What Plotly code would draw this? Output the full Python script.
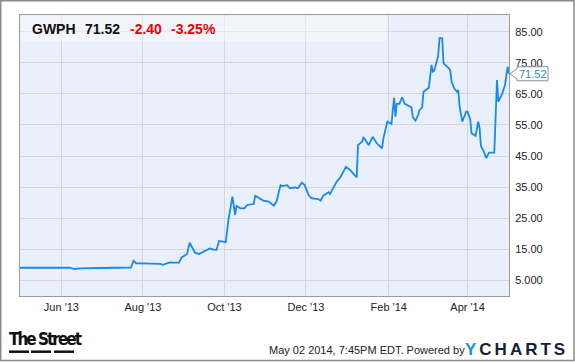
import plotly.graph_objects as go

# ---- data ----
dates = [
    "2013-05-01", "2013-05-20", "2013-06-07", "2013-06-11", "2013-06-15", "2013-06-30", "2013-07-23", "2013-07-25", "2013-07-27", "2013-08-06",
    "2013-08-14", "2013-08-16", "2013-08-21", "2013-08-25", "2013-08-28", "2013-08-30", "2013-09-03", "2013-09-05", "2013-09-09", "2013-09-12",
    "2013-09-15", "2013-09-20", "2013-09-23", "2013-09-25", "2013-09-27", "2013-10-02", "2013-10-04", "2013-10-07", "2013-10-09", "2013-10-10",
    "2013-10-13", "2013-10-16", "2013-10-18", "2013-10-23", "2013-10-24", "2013-10-26", "2013-10-30", "2013-11-03", "2013-11-07", "2013-11-09",
    "2013-11-12", "2013-11-13", "2013-11-17", "2013-11-19", "2013-11-23", "2013-11-25", "2013-11-28", "2013-11-30", "2013-12-03", "2013-12-05",
    "2013-12-10", "2013-12-12", "2013-12-14", "2013-12-18", "2013-12-19", "2013-12-22", "2013-12-24", "2013-12-27", "2013-12-31", "2014-01-03",
    "2014-01-07", "2014-01-08", "2014-01-09", "2014-01-12", "2014-01-13", "2014-01-14", "2014-01-17", "2014-01-20", "2014-01-23", "2014-01-27",
    "2014-01-28", "2014-01-31", "2014-02-03", "2014-02-05", "2014-02-06", "2014-02-07", "2014-02-09", "2014-02-11", "2014-02-13", "2014-02-18",
    "2014-02-19", "2014-02-21", "2014-02-23", "2014-02-24", "2014-02-26", "2014-02-27", "2014-03-03", "2014-03-05", "2014-03-06", "2014-03-07",
    "2014-03-10", "2014-03-11", "2014-03-13", "2014-03-14", "2014-03-18", "2014-03-19", "2014-03-20", "2014-03-22", "2014-03-24", "2014-03-25",
    "2014-03-26", "2014-03-28", "2014-03-31", "2014-04-01", "2014-04-03", "2014-04-04", "2014-04-07", "2014-04-09", "2014-04-10", "2014-04-11",
    "2014-04-13", "2014-04-15", "2014-04-17", "2014-04-21", "2014-04-23", "2014-04-24", "2014-04-27", "2014-04-29", "2014-05-01", "2014-05-02",
]
prices = [
    8.95, 8.87, 8.97, 8.55, 8.77, 8.87, 9.03, 11.2, 10.4, 10.3,
    10.2, 9.9, 10.7, 10.6, 10.6, 12.3, 13.4, 17.0, 13.8, 13.4,
    14.1, 15.2, 14.8, 14.7, 17.6, 17.2, 24.4, 31.9, 26.0, 28.9,
    28.1, 28.1, 29.2, 29.5, 32.2, 31.7, 30.6, 30.3, 29.0, 30.3,
    35.6, 35.3, 35.6, 34.6, 34.9, 34.6, 36.4, 35.6, 32.4, 31.4,
    31.1, 30.6, 32.2, 33.3, 32.7, 35.1, 36.7, 38.3, 41.5, 40.5,
    38.3, 38.1, 48.5, 49.6, 50.9, 50.5, 48.5, 51.2, 49.1, 47.5,
    50.7, 56.1, 55.3, 63.8, 57.7, 61.8, 61.8, 63.9, 61.8, 60.7,
    57.5, 56.4, 58.2, 59.8, 60.7, 65.7, 67.0, 74.4, 72.2, 72.5,
    77.3, 83.0, 83.0, 74.9, 73.3, 72.7, 69.0, 66.8, 65.7, 66.3,
    61.1, 56.1, 59.3, 59.3, 56.8, 52.3, 51.5, 56.1, 53.9, 48.2,
    46.6, 44.3, 46.1, 46.1, 69.5, 62.5, 65.2, 67.9, 73.8, 71.52,
]
x_tick_vals = ["2013-06-01", "2013-08-01", "2013-10-01", "2013-12-01", "2014-02-01", "2014-04-01"]
x_tick_text = ["Jun '13", "Aug '13", "Oct '13", "Dec '13", "Feb '14", "Apr '14"]
y_tick_vals = [5, 15, 25, 35, 45, 55, 65, 75, 85]
y_tick_text = ["5.000", "15.00", "25.00", "35.00", "45.00", "55.00", "65.00", "75.00", "85.00"]

ticker = "GWPH"
last_price = "71.52"
change = "-2.40"
change_pct = "-3.25%"
footer_text = "May 02 2014, 7:45PM EDT. Powered by"

LINE = "#1a8ae8"
FONT = "Liberation Sans, Arial, sans-serif"
Y_LO, Y_HI = -0.16, 90.48

fig = go.Figure()
fig.add_trace(go.Scatter(
    x=dates, y=prices, mode="lines",
    line=dict(color=LINE, width=1.8),
    hoverinfo="skip", showlegend=False,
))

fig.update_layout(
    width=575, height=362,
    margin=dict(l=20, r=66, t=15, b=66),
    paper_bgcolor="white",
    plot_bgcolor="#eaf0fb",
    font=dict(family=FONT, size=11, color="#222222"),
    xaxis=dict(
        type="date",
        range=["2013-05-01", "2014-05-02"],
        tickvals=x_tick_vals, ticktext=x_tick_text,
        showgrid=True, gridcolor="#d6d6d6", gridwidth=1,
        showline=True, linecolor="#9b9b9b", linewidth=1, mirror=True,
        ticks="outside", ticklen=1, tickcolor="rgba(0,0,0,0)",
        tickfont=dict(size=11, color="#222222"),
        zeroline=False, fixedrange=True,
    ),
    yaxis=dict(
        side="right",
        range=[Y_LO, Y_HI],
        tickvals=y_tick_vals, ticktext=y_tick_text,
        showgrid=True, gridcolor="#d6d6d6", gridwidth=1,
        showline=True, linecolor="#9b9b9b", linewidth=1, mirror=True,
        ticks="outside", ticklen=3, tickcolor="rgba(0,0,0,0)",
        tickfont=dict(size=11, color="#222222"),
        zeroline=False, fixedrange=True,
    ),
)

shapes = []
# light band behind the title
shapes.append(dict(type="rect", xref="paper", yref="paper",
                   x0=0.002, x1=0.75, y0=0.907, y1=0.997,
                   fillcolor="rgba(255,255,255,0.4)", line=dict(width=0), layer="above"))
# outer frame
shapes.append(dict(type="rect", xref="paper", yref="paper",
                   x0=(0.7 - 20) / 489, x1=(574 - 20) / 489,
                   y0=(296 - 360.5) / 281, y1=(296 - 0.7) / 281,
                   line=dict(color="#8a8a8a", width=1.5), fillcolor="rgba(0,0,0,0)"))
# TheStreet underline dashes
for a, b in [(9, 29), (31, 51), (54, 74)]:
    shapes.append(dict(type="line", xref="paper", yref="paper",
                       x0=(a - 20) / 489, x1=(b - 20) / 489,
                       y0=(296 - 351.7) / 281, y1=(296 - 351.7) / 281,
                       line=dict(color="#111111", width=2.5)))
# last value callout (paper-anchored so it is not clipped by the plot area)
last_frac = (prices[-1] - Y_LO) / (Y_HI - Y_LO)
shapes.append(dict(type="path", xref="paper", yref="paper",
                   xsizemode="pixel", ysizemode="pixel",
                   xanchor=1, yanchor=last_frac,
                   path="M 1,0 L 8,5 L 8,7 L 39,7 L 39,-7 L 8,-7 L 8,-5 Z",
                   fillcolor="white", line=dict(color="#8f8f8f", width=1)))
fig.update_layout(shapes=shapes)

title_y = (296 - 29) / 281
annotations = [
    dict(text="<b>%s</b>" % ticker, x=(31 - 20) / 489, font=dict(color="#111111")),
    dict(text="<b>%s</b>" % last_price, x=(84 - 20) / 489, font=dict(color="#111111")),
    dict(text="<b>%s</b>" % change, x=(129 - 20) / 489, font=dict(color="#ee0000")),
    dict(text="<b>%s</b>" % change_pct, x=(170 - 20) / 489, font=dict(color="#ee0000")),
]
for a in annotations:
    a.update(xref="paper", yref="paper", y=title_y, xanchor="left", yanchor="middle",
             showarrow=False, borderpad=0)
    a["font"].update(size=14, family=FONT)
    fig.add_annotation(**a)

# last value label
fig.add_annotation(x=1, y=last_frac, xref="paper", yref="paper",
                   text=last_price, showarrow=False, xanchor="left", yanchor="middle",
                   xshift=9, borderpad=0,
                   font=dict(size=11, color=LINE, family=FONT))

# footer
fig.add_annotation(xref="paper", yref="paper", x=(8 - 20) / 489, y=(296 - 339) / 281,
                   xanchor="left", yanchor="middle", showarrow=False, borderpad=0,
                   text="<span style='letter-spacing:-2px'><b>The Street</b></span>",
                   font=dict(size=17, color="#111111",
                             family="Liberation Sans Narrow, DejaVu Sans Condensed, Arial Narrow, sans-serif"))
fig.add_annotation(xref="paper", yref="paper", x=(268 - 20) / 489, y=(296 - 350) / 281,
                   xanchor="left", yanchor="middle", showarrow=False, borderpad=0,
                   text=footer_text, font=dict(size=11, color="#222222", family=FONT))
fig.add_annotation(xref="paper", yref="paper", x=(464 - 20) / 489, y=(296 - 349) / 281,
                   xanchor="left", yanchor="middle", showarrow=False, borderpad=0,
                   text="<span style='letter-spacing:3px'><b><span style='color:#1f8fd8'>Y</span>CHARTS</b></span>",
                   font=dict(size=17, color="#14213a", family=FONT))

fig.write_html("out.html", config={"displayModeBar": False},
               post_script="document.body.style.margin='0';document.body.style.padding='0';")
